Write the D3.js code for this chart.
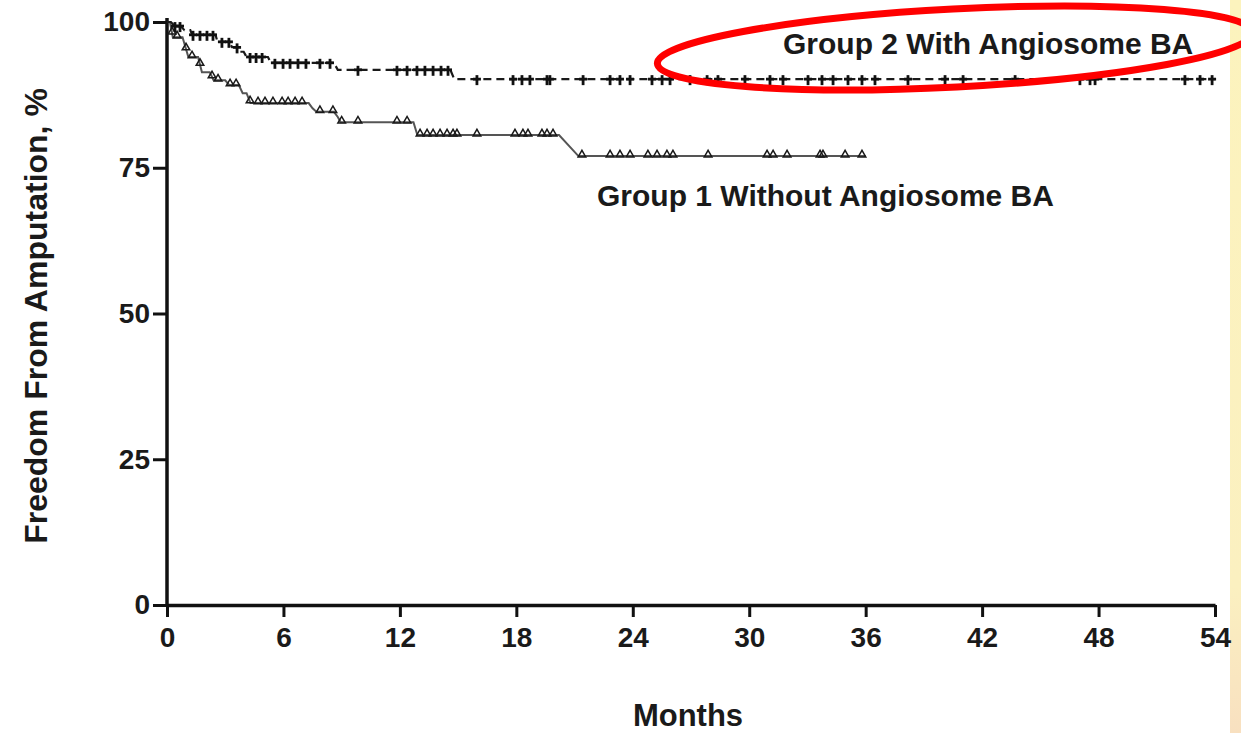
<!DOCTYPE html>
<html>
<head>
<meta charset="utf-8">
<script src="https://cdn.jsdelivr.net/npm/d3@7"></script>
<style>
body { margin: 0; background: #fff; }
svg { display: block; }
text { font-family: "Liberation Sans", Arial, sans-serif; font-weight: bold; fill: #1a1a1a; }
</style>
</head>
<body>
<div id="chart"></div>
<script>
// tick labels
var xTicks = [0, 6, 12, 18, 24, 30, 36, 42, 48, 54];
var yTicks = [0, 25, 50, 75, 100];

// group 1 (without angiosome BA) - curve vertices
var group1Times  = [0, 0.15, 0.3, 0.8, 1.1, 1.6, 1.8, 2.2, 2.4, 3.0, 3.2, 3.7, 3.9, 4.1, 4.3, 7.3, 7.5, 7.7, 8.6, 8.8, 8.95, 12.7, 12.9, 20.2, 21.2, 36];
var group1Values = [100, 100, 97.4, 97.4, 94.0, 94.0, 91.4, 91.4, 90.0, 90.0, 89.2, 89.2, 87.8, 87.8, 86.1, 86.1, 85.2, 84.6, 84.6, 83.7, 82.8, 82.8, 80.6, 80.6, 77.0, 77.0];
var group1Censored = [0.26, 0.52, 0.98, 1.29, 1.70, 2.32, 2.63, 3.25, 3.56, 4.28, 4.69, 5.05, 5.46, 5.93, 6.24, 6.60, 6.96,
	7.88, 8.55, 9.0, 9.84, 11.85, 12.37, 13.04, 13.40, 13.71, 14.07, 14.43, 14.74, 14.94, 15.97, 17.93, 18.34, 18.60,
	19.32, 19.58, 19.89, 21.38, 22.83, 23.34, 23.86, 24.78, 25.25, 25.76, 26.07, 27.88, 30.92, 31.23, 31.95, 33.65,
	33.80, 34.94, 35.81];

// group 2 (with angiosome BA)
var group2Times  = [0, 0.2, 0.4, 0.7, 0.9, 1.2, 1.3, 2.5, 2.6, 3.2, 3.35, 3.6, 3.75, 3.95, 4.1, 5.2, 5.35, 8.6, 8.8, 14.6, 14.8, 54];
var group2Values = [100, 100, 99.3, 99.3, 98.6, 98.6, 97.8, 97.8, 96.6, 96.6, 95.7, 95.7, 94.9, 94.9, 94.0, 94.0, 93.0, 93.0, 91.8, 91.8, 90.2, 90.2];
var group2Censored = [0.41, 0.67, 1.34, 1.70, 2.06, 2.37, 2.83, 3.19, 3.61, 4.28, 4.59, 4.90, 5.56, 5.98, 6.34, 6.75, 7.16,
	7.88, 8.40, 9.84, 11.85, 12.37, 12.88, 13.29, 13.71, 14.12, 14.48, 15.97, 17.83, 18.29, 18.70, 19.58, 19.73, 21.44,
	22.83, 23.34, 23.86, 24.99, 25.51, 25.92, 26.95, 27.83, 28.39, 29.78, 31.07, 31.74, 33.03, 33.75, 34.32, 35.09,
	35.81, 36.48, 38.18, 40.09, 41.02, 43.70, 47.04, 47.56, 47.82, 52.45, 53.23, 53.85];

var group1Label = "Group 1 Without Angiosome BA";
var group2Label = "Group 2 With Angiosome BA";

// value of a curve at time t (on the drawn polyline)
function valueAt(ts, vs, t){
	for (var i = 0; i < ts.length - 1; i++) {
		if (t <= ts[i + 1]) {
			var f = (t - ts[i]) / (ts[i + 1] - ts[i]);
			return vs[i] + f * (vs[i + 1] - vs[i]);
		}
	}
	return vs[vs.length - 1];
}

var W = 1241, H = 733;

var svg = d3.select("#chart").append("svg")
	.attr("width", W)
	.attr("height", H);

var defs = svg.append("defs");
var grad = defs.append("linearGradient")
	.attr("id", "strip")
	.attr("x1", 0).attr("y1", 0).attr("x2", 0).attr("y2", 1);
grad.append("stop").attr("offset", "0%").attr("stop-color", "#fcf3bd");
grad.append("stop").attr("offset", "80%").attr("stop-color", "#fbf0c0");
grad.append("stop").attr("offset", "100%").attr("stop-color", "#f8e0c0");

// yellow strip on the right edge
svg.append("rect")
	.attr("x", 1230)
	.attr("y", 0)
	.attr("width", W - 1230)
	.attr("height", H)
	.attr("fill", "url(#strip)");

var x = d3.scaleLinear().domain([0, 54]).range([167, 1215]);
var y = d3.scaleLinear().domain([0, 100]).range([605, 22]);

// axes
var xAxis = svg.append("g")
	.attr("transform", "translate(0," + y(0) + ")")
	.call(d3.axisBottom(x).tickValues(xTicks).tickSize(12).tickSizeOuter(0).tickPadding(10));

var yAxis = svg.append("g")
	.attr("transform", "translate(" + x(0) + ",0)")
	.call(d3.axisLeft(y).tickValues(yTicks).tickSize(14).tickSizeOuter(0).tickPadding(3));

svg.selectAll(".domain")
	.attr("stroke", "#111")
	.attr("stroke-width", 3.5);
svg.selectAll(".tick line")
	.attr("stroke", "#111")
	.attr("stroke-width", 3);
svg.selectAll(".tick text")
	.style("font-size", "28px")
	.style("font-family", "'Liberation Sans', Arial, sans-serif")
	.style("font-weight", "bold")
	.attr("fill", "#1a1a1a");

// the y axis line reaches a bit above 100
yAxis.select(".domain").attr("d", "M0,18V" + y(0));

var line = d3.line()
	.x(function(d){ return x(d[0]); })
	.y(function(d){ return y(d[1]); });

var g1 = group1Times.map(function(t, i){ return [t, group1Values[i]]; });
var g2 = group2Times.map(function(t, i){ return [t, group2Values[i]]; });

// group 1 - solid grey line
svg.append("path")
	.datum(g1)
	.attr("d", line)
	.attr("fill", "none")
	.attr("stroke", "#555")
	.attr("stroke-width", 2);

// group 2 - dashed line
svg.append("path")
	.datum(g2)
	.attr("d", line)
	.attr("fill", "none")
	.attr("stroke", "#1a1a1a")
	.attr("stroke-width", 2.2)
	.attr("stroke-dasharray", "8,5");

// censor marks, triangles for group 1
svg.append("g").selectAll("path")
	.data(group1Censored)
	.enter().append("path")
	.attr("transform", function(t){
		return "translate(" + x(t) + "," + y(valueAt(group1Times, group1Values, t)) + ")";
	})
	.attr("d", "M-3.8,0.8L3.8,0.8L0,-5.8Z")
	.attr("fill", "none")
	.attr("stroke", "#1a1a1a")
	.attr("stroke-width", 1.5);

// plus marks for group 2
var plus = svg.append("g").selectAll("g")
	.data(group2Censored)
	.enter().append("g")
	.attr("transform", function(t){
		return "translate(" + x(t) + "," + y(valueAt(group2Times, group2Values, t)) + ")";
	});
plus.append("line")
	.attr("x1", 0).attr("x2", 0)
	.attr("y1", -4).attr("y2", 6)
	.attr("stroke", "#111")
	.attr("stroke-width", 2.8);
plus.append("line")
	.attr("x1", -4).attr("x2", 4)
	.attr("y1", 0).attr("y2", 0)
	.attr("stroke", "#111")
	.attr("stroke-width", 2.8);

// labels
svg.append("text")
	.attr("x", 783)
	.attr("y", 54)
	.style("font-size", "30px")
	.text(group2Label);

svg.append("text")
	.attr("x", 597)
	.attr("y", 206)
	.style("font-size", "30px")
	.text(group1Label);

svg.append("text")
	.attr("x", 688)
	.attr("y", 726)
	.attr("text-anchor", "middle")
	.style("font-size", "31px")
	.text("Months");

svg.append("text")
	.attr("transform", "translate(47,316) rotate(-90)")
	.attr("text-anchor", "middle")
	.style("font-size", "32px")
	.text("Freedom From Amputation, %");

// red ellipse around the group 2 label
svg.append("ellipse")
	.attr("cx", 955)
	.attr("cy", 48)
	.attr("rx", 298)
	.attr("ry", 39)
	.attr("transform", "rotate(-3,955,48)")
	.attr("fill", "none")
	.attr("stroke", "#ff0000")
	.attr("stroke-width", 7);
</script>
</body>
</html>
